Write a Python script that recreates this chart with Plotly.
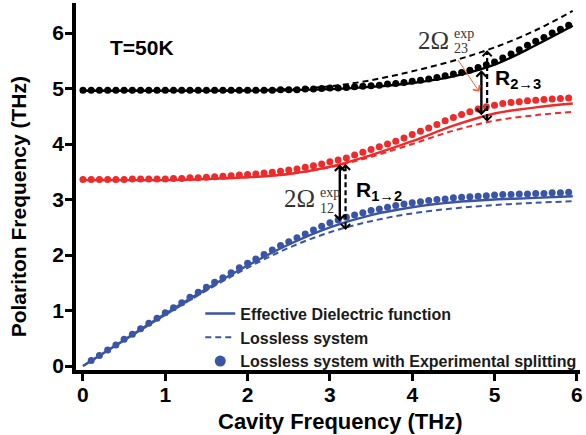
import plotly.graph_objects as go

# ---- data (THz) ----
# dotted series: lossless system with experimental splitting, sampled every 0.1 THz
x_dots = [round(0.1 * i, 1) for i in range(0, 60)]          # 0.0 ... 5.9
upper_dots = [4.97, 4.97, 4.97, 4.97, 4.97, 4.97, 4.97, 4.97, 4.97, 4.97,
              4.97, 4.97, 4.97, 4.97, 4.97, 4.97, 4.97, 4.97, 4.97, 4.97,
              4.97, 4.97, 4.97, 4.97, 4.98, 4.98, 4.98, 4.99, 4.99, 5.00,
              5.01, 5.01, 5.02, 5.03, 5.04, 5.05, 5.06, 5.08, 5.09, 5.11,
              5.13, 5.15, 5.17, 5.20, 5.23, 5.26, 5.29, 5.33, 5.38, 5.43,
              5.48, 5.55, 5.62, 5.70, 5.78, 5.85, 5.92, 6.00, 6.07, 6.14]
middle_dots = [3.36, 3.36, 3.36, 3.36, 3.36, 3.36, 3.37, 3.37, 3.37, 3.37,
               3.37, 3.38, 3.38, 3.39, 3.39, 3.40, 3.41, 3.42, 3.43, 3.44,
               3.45, 3.46, 3.48, 3.49, 3.51, 3.53, 3.55, 3.58, 3.61, 3.64,
               3.68, 3.71, 3.75, 3.80, 3.85, 3.90, 3.95, 4.00, 4.05, 4.11,
               4.17, 4.23, 4.29, 4.35, 4.42, 4.48, 4.53, 4.58, 4.63, 4.67,
               4.70, 4.73, 4.75, 4.76, 4.78, 4.79, 4.80, 4.81, 4.82, 4.83]
x_dots_lower = x_dots[1:]                                    # 0.1 ... 5.9
lower_dots = [0.10, 0.19, 0.29, 0.38, 0.48, 0.57, 0.67, 0.77, 0.86, 0.96,
              1.05, 1.14, 1.24, 1.33, 1.42, 1.51, 1.59, 1.68, 1.77, 1.85,
              1.93, 2.01, 2.09, 2.17, 2.24, 2.31, 2.38, 2.45, 2.52, 2.58,
              2.63, 2.68, 2.72, 2.76, 2.80, 2.83, 2.86, 2.89, 2.92, 2.94,
              2.96, 2.98, 3.00, 3.01, 3.03, 3.04, 3.05, 3.06, 3.07, 3.08,
              3.09, 3.09, 3.10, 3.10, 3.11, 3.11, 3.12, 3.12, 3.13]

# curves: effective dielectric function (solid) and lossless system (dashed)
x_curve = [0.0, 0.5, 1.0, 1.5, 2.0, 2.5, 3.0, 3.5, 4.0, 4.5, 5.0, 5.5, 5.95]
upper_eff = [4.96, 4.96, 4.96, 4.96, 4.96, 4.97, 4.99, 5.03, 5.10, 5.22, 5.43, 5.78, 6.13]
upper_lossless = [4.96, 4.96, 4.96, 4.96, 4.97, 4.99, 5.04, 5.15, 5.31, 5.50, 5.74, 6.05, 6.40]
middle_eff = [3.35, 3.35, 3.35, 3.37, 3.40, 3.46, 3.59, 3.80, 4.05, 4.33, 4.55, 4.66, 4.73]
middle_lossless = [3.35, 3.35, 3.35, 3.37, 3.40, 3.46, 3.58, 3.77, 4.00, 4.24, 4.42, 4.52, 4.58]
lower_eff = [0.0, 0.47, 0.94, 1.39, 1.81, 2.19, 2.50, 2.72, 2.86, 2.95, 3.00, 3.03, 3.06]
lower_lossless = [0.0, 0.46, 0.92, 1.36, 1.77, 2.13, 2.41, 2.61, 2.75, 2.84, 2.90, 2.94, 2.97]

# Rabi splitting markers: (x, top, bottom)
r12_solid = (3.12, 3.63, 2.58)
r12_dashed = (3.19, 3.64, 2.45)
r23_solid = (4.84, 5.33, 4.49)
r23_dashed = (4.91, 5.69, 4.40)

x_ticks = [0, 1, 2, 3, 4, 5, 6]
y_ticks = [0, 1, 2, 3, 4, 5, 6]

BLUE = "#3b55a6"
RED = "#ee2a2a"
BLACK = "#000000"
SANS = "Liberation Sans, Arial, sans-serif"
SERIF = "Liberation Serif, Times New Roman, serif"
DASH = "6px,4px"

fig = go.Figure()

def curve(x, y, color, dash, name=None, show=False):
    fig.add_trace(go.Scatter(x=x, y=y, mode="lines", name=name, showlegend=show,
                             line=dict(color=color, width=2.4 if dash == "solid" else 2,
                                       dash=dash, shape="spline")))

curve(x_curve, upper_eff, BLACK, "solid")
curve(x_curve, upper_lossless, BLACK, DASH)
curve(x_curve, middle_eff, RED, "solid")
curve(x_curve, middle_lossless, RED, DASH)
curve(x_curve, lower_eff, BLUE, "solid", "Effective Dielectric function", True)
curve(x_curve, lower_lossless, BLUE, DASH, "Lossless system", True)

def dots(x, y, color):
    fig.add_trace(go.Scatter(x=x, y=y, mode="markers", showlegend=False,
                             marker=dict(color=color, size=7, line=dict(width=0))))

dots(x_dots, upper_dots, BLACK)
dots(x_dots, middle_dots, RED)
dots(x_dots_lower, lower_dots, BLUE)

# legend entry for the dotted series
fig.add_trace(go.Scatter(x=[None], y=[None], mode="markers",
                         name="Lossless system with Experimental splitting",
                         marker=dict(color=BLUE, size=11)))

# ---- double-headed arrows ----
annotations = []
for (xa, ytop, ybot) in (r12_solid, r23_solid):
    annotations.append(dict(x=xa, y=ytop, ax=xa, ay=ybot, xref="x", yref="y",
                            axref="x", ayref="y", text="", showarrow=True,
                            arrowside="end+start", arrowhead=4, startarrowhead=4,
                            arrowsize=0.8, startarrowsize=0.8, arrowwidth=2.4,
                            arrowcolor=BLACK))

shapes = []
for (xa, ytop, ybot) in (r12_dashed, r23_dashed):
    shapes.append(dict(type="line", xref="x", yref="y", x0=xa, x1=xa,
                       y0=ybot + 0.05, y1=ytop - 0.05,
                       line=dict(color=BLACK, width=2.2, dash="5px,3px")))
    for tip, toward in ((ytop, ytop - 0.08), (ybot, ybot + 0.08)):
        annotations.append(dict(x=xa, y=tip, ax=xa, ay=toward, xref="x", yref="y",
                                axref="x", ayref="y", text="", showarrow=True,
                                arrowhead=4, arrowsize=0.8, arrowwidth=2.2,
                                arrowcolor=BLACK))

# thin pointer to the upper splitting
annotations.append(dict(x=4.815, y=4.94, ax=4.545, ay=5.54, xref="x", yref="y",
                        axref="x", ayref="y", text="", showarrow=True,
                        arrowhead=4, arrowsize=1.6, arrowwidth=1,
                        arrowcolor="#f0603c"))

# ---- text labels ----
def label(x, y, text, size, family=SANS, color=BLACK, xanchor="left"):
    annotations.append(dict(x=x, y=y, xref="x", yref="y", text=text, showarrow=False,
                            xanchor=xanchor, yanchor="middle",
                            font=dict(family=family, size=size, color=color)))

label(0.3, 5.74, "<b>T=50K</b>", 21)
label(3.29, 3.15, "<b>R<sub>1→2</sub></b>", 21)
label(4.98, 5.17, "<b>R<sub>2→3</sub></b>", 21)

label(2.84, 3.01, "2Ω", 25, SERIF, "#333333", "right")
label(2.85, 3.13, "exp", 14, SERIF, "#333333")
label(2.85, 2.83, "12", 14, SERIF, "#333333")
label(4.47, 5.86, "2Ω", 25, SERIF, "#333333", "right")
label(4.48, 6.00, "exp", 14, SERIF, "#333333")
label(4.48, 5.73, "23", 14, SERIF, "#333333")

# axis titles
annotations.append(dict(xref="paper", yref="paper", x=(342 - 76) / 507, y=(370 - 421) / 367,
                        text="<b>Cavity Frequency (THz)</b>", showarrow=False,
                        xanchor="center", yanchor="middle",
                        font=dict(family=SANS, size=22, color=BLACK)))
annotations.append(dict(xref="paper", yref="paper", x=(18 - 76) / 507, y=(370 - 207) / 367,
                        text="<b>Polariton Frequency (THz)</b>", showarrow=False,
                        textangle=-90, xanchor="center", yanchor="middle",
                        font=dict(family=SANS, size=21, color=BLACK)))

axis_common = dict(showline=True, linewidth=3.5, linecolor=BLACK, ticks="outside",
                   ticklen=7, tickwidth=3, tickcolor=BLACK, showgrid=False,
                   zeroline=False, mirror=False,
                   tickfont=dict(family=SANS, size=21, color=BLACK, weight="bold"))

fig.update_layout(
    width=586, height=435,
    margin=dict(l=76, r=3, t=3, b=65),
    paper_bgcolor="white", plot_bgcolor="white",
    xaxis=dict(range=[-0.0845, 6.038], tickvals=x_ticks, ticklabelstandoff=-4,
               **axis_common),
    yaxis=dict(range=[-0.072, 6.541], tickvals=y_ticks, ticklabelstandoff=-3,
               **axis_common),
    legend=dict(x=(201 - 76) / 507, y=0.200, xanchor="left", yanchor="top",
                bgcolor="rgba(0,0,0,0)", borderwidth=0,
                font=dict(family=SANS, size=16, color="#1a1a1a", weight="bold"),
                tracegroupgap=0),
    annotations=annotations,
    shapes=shapes,
)

fig.write_html("out.html")
